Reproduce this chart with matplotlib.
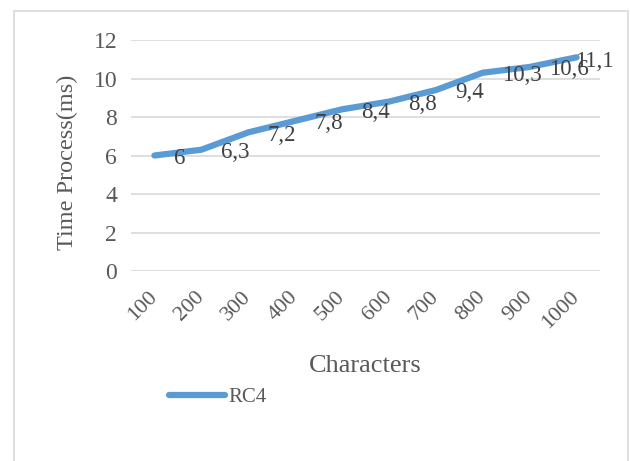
import matplotlib.pyplot as plt
from matplotlib.patches import Rectangle

chars = ["100", "200", "300", "400", "500", "600", "700", "800", "900", "1000"]
times = [6.0, 6.3, 7.2, 7.8, 8.4, 8.8, 9.4, 10.3, 10.6, 11.1]
labels = ["6", "6,3", "7,2", "7,8", "8,4", "8,8", "9,4", "10,3", "10,6", "11,1"]

plt.rcParams["font.family"] = ["Liberation Serif", "DejaVu Serif"]

fig = plt.figure(figsize=(6.3, 4.61), dpi=100)
ax = fig.add_axes([131 / 630, 1 - 271 / 461, 469 / 630, 231 / 461])

# outer chart border (bottom runs off the image)
fig.add_artist(Rectangle((14 / 630, -0.05), 614 / 630, 1.05 - 11 / 461,
                         transform=fig.transFigure, fill=False,
                         edgecolor="#d9d9d9", linewidth=1.2))

x = range(len(chars))
ax.plot(x, times, color="#5b9bd5", linewidth=4.5, solid_capstyle="round",
        label="RC4")

for i, (v, s) in enumerate(zip(times, labels)):
    dx, dy = (14, -2) if i < len(times) - 1 else (-1, -3)
    ax.annotate(s, (i, v), xytext=(dx, dy), textcoords="offset points",
                ha="left", va="center", fontsize=16.5, color="#404040")

ax.set_xlim(-0.5, len(chars) - 0.5)
ax.set_ylim(0, 12)
ax.set_yticks(range(0, 13, 2))
ax.set_xticks(list(x))
ax.set_xticklabels(chars, rotation=45, ha="right", va="center",
                   rotation_mode="anchor")
ax.tick_params(axis="x", length=0, pad=17, labelsize=16, labelcolor="#595959")
ax.tick_params(axis="y", length=0, pad=10, labelsize=17, labelcolor="#595959")
ax.grid(axis="y", color="#d9d9d9", linewidth=1.2)
ax.set_axisbelow(True)
for sp in ax.spines.values():
    sp.set_visible(False)

ax.set_xlabel("Characters", fontsize=19, color="#595959", va="center")
ax.xaxis.set_label_coords(0.5, -0.413)
ax.set_ylabel("Time Process(ms)", fontsize=17.5, color="#595959", va="center")
ax.yaxis.set_label_coords(-0.136, 0.47)

fig.legend(loc="center left", bbox_to_anchor=(169 / 630, 1 - 397 / 461),
           frameon=False, fontsize=15, handlelength=2.7, handletextpad=0.15,
           borderpad=0, borderaxespad=0, labelcolor="#595959")

fig.savefig("out.png", dpi=100)
